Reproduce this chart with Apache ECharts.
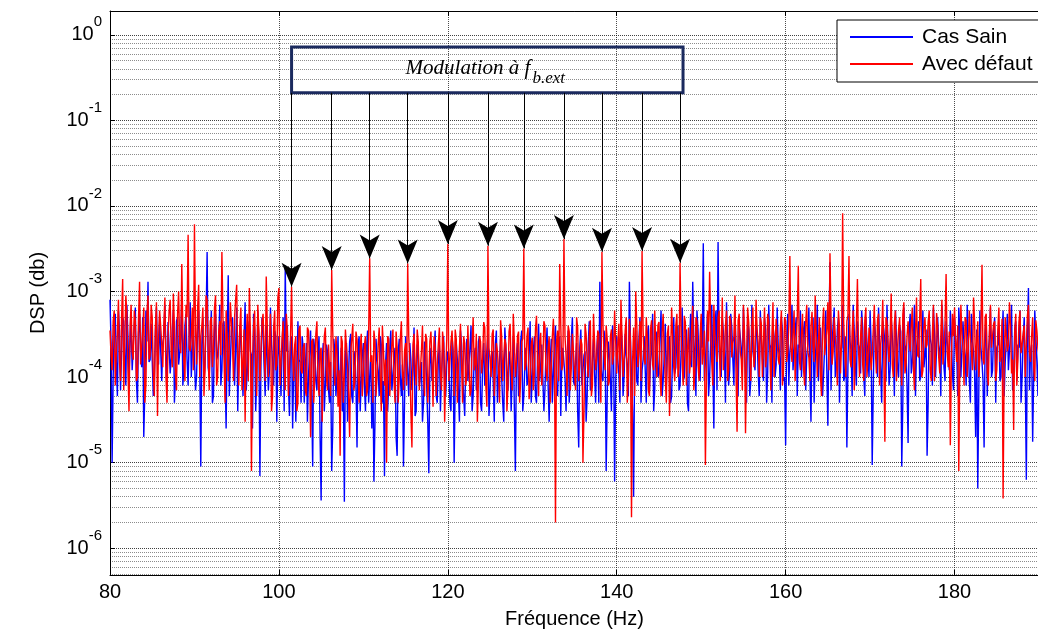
<!DOCTYPE html>
<html><head><meta charset="utf-8">
<script src="https://cdn.jsdelivr.net/npm/echarts@6/dist/echarts.min.js"></script>
<style>html,body{margin:0;padding:0;background:#fff}#c{width:1038px;height:633px}</style>
</head><body><div id="c"></div>
<script>
// ---- data: values in units of 1e-4; one row per 10 Hz band ----
// *Rows: samples at band + k*0.25 Hz ; *MidRows: samples at band + k*0.25 + 0.125 Hz
const freqStep = 0.25;
const midShift = 0.125;
const valueUnit = 1e-4;
const bandStarts = [80, 90, 100, 110, 120, 130, 140, 150, 160, 170, 180];
const seriesNames = ['Cas Sain', 'Avec défaut'];
const xTicks = [80, 100, 120, 140, 160, 180];
const yDecades = [-6, -5, -4, -3, -2, -1, 0];

const redRows = [
  [3.5,1.2,6.0,2.0,8.0,0.9,14,2.5,5.5,0.4, 7.0,1.6,4.5,1.0,13,2.2,6.5,0.8,9.0,1.8, 5.0,0.6,7.5,2.8,4.0,1.3,8.5,0.5,6.0,1.9, 9.5,1.1,5.5,2.5,21,1.5,7.0,46,2.0,6.5],
  [61,1.4,12,3.0,6.5,1.2,8.0,0.7,5.0,2.0, 9.0,1.0,4.5,29,1.6,6.0,0.9,7.5,2.4,5.0, 12,0.8,6.5,1.5,0.3,5.5,11,0.08,4.0,1.3, 7.0,0.9,4.5,2.2,15,1.0,5.5,0.6,6.0,1.4],
  [11,1.5,4.5,0.7,3.5,1.2,11.4,0.9,3.0,0.5, 4.0,1.1,2.5,0.6,3.5,0.2,2.8,1.0,4.5,0.6, 2.2,1.3,3.8,0.7,2.5,17.8,1.4,3.0,0.45,0.12, 2.6,1.0,3.5,0.6,2.0,4.2,0.9,2.8,0.5,3.2],
  [1.1,3.0,0.7,24.4,1.8,3.5,0.6,2.4,1.0,4.0, 0.8,0.1,2.8,1.2,3.6,0.5,2.2,1.0,4.5,0.7, 2.5,21.3,1.5,0.15,3.2,0.8,2.6,1.2,4.0,0.6, 2.8,1.0,3.4,0.45,2.2,1.4,3.8,0.7,2.5,1.1],
  [35.9,1.5,3.5,0.6,2.8,1.2,4.2,0.5,2.5,1.0, 3.8,0.7,5.0,1.4,0.3,3.0,1.1,4.4,0.8,34.3, 1.6,3.2,0.6,2.5,1.2,4.6,0.9,2.8,0.4,3.4, 1.3,5.5,1.0,3.0,0.5,2.6,31.9,1.4,3.8,0.8],
  [2.9,1.1,5.2,0.6,3.3,1.5,4.0,0.9,3.0,1.3, 4.8,0.02,3.5,21,1.2,41,1.8,4.0,0.7,3.2, 1.2,5.0,0.9,2.8,0.1,4.2,1.5,3.0,0.6,5.5, 1.2,3.5,1.0,29.2,1.8,4.0,0.8,3.0,1.4,6.0],
  [1.1,4.2,8.0,1.0,3.5,0.5,4.8,0.023,3.8,10, 1.3,4.5,29.7,1.6,5.0,0.7,3.6,1.4,6.0,1.0, 4.4,0.6,5.5,1.8,3.2,0.35,6.5,1.3,4.0,1.0, 21.7,1.5,5.2,0.8,3.8,1.6,6.8,1.1,4.5,0.9],
  [5.5,2.0,0.094,6.0,17,1.5,7.0,2.2,5.0,0.9, 8.5,2.0,6.0,1.2,4.5,2.5,9.0,0.23,5.5,1.6, 7.0,0.22,6.5,2.0,4.0,1.3,8.0,2.5,5.0,1.0, 6.5,1.8,4.5,0.7,7.5,2.2,5.0,1.4,6.0,1.2],
  [4.5,2.0,26,1.5,6.0,2.5,20,1.2,5.5,0.8, 7.0,1.7,4.0,2.3,9.0,1.0,5.0,0.6,6.5,1.8, 7.5,28,1.4,5.0,2.0,6.0,1.1,82,2.0,4.5, 26,1.3,6.0,2.0,14,1.0,5.0,0.9,6.5,1.6],
  [4.0,1.8,7.0,1.1,5.5,2.4,8.0,0.175,4.5,1.5, 9.5,1.0,6.0,2.2,5.0,0.8,7.5,1.4,4.5,2.0, 6.5,0.7,8.5,1.7,14,1.2,5.0,2.4,6.0,0.9, 7.0,1.8,4.0,1.1,8.0,2.0,16,1.3,0.16,5.5],
  [6.5,1.5,0.08,7.0,2.2,5.0,1.0,6.0,2.0,8.5, 1.2,4.5,1.7,20.5,1.4,5.5,0.8,7.0,2.3,4.5, 1.2,6.5,1.8,0.038,5.0,2.0,7.5,1.1,0.24,5.5, 1.6,6.0,2.4,4.0,1.0,7.0,1.5,5.0,0.9,3.5, 1.8]
];
const redMidRows = [
  [1.8,4.5,0.8,3.2,1.5,5.0,0.7,9.0,1.2,4.0, 2.0,6.0,0.9,4.8,1.4,3.5,0.5,5.5,1.6,7.0, 1.1,3.8,0.35,6.0,2.4,4.2,1.0,3.0,8.0,1.3, 4.0,0.7,10,1.9,3.6,0.9,5.0,2.2,3.0,1.2],
  [3.5,6.5,1.0,4.0,0.6,9.0,2.0,4.5,1.3,6.5, 0.8,3.4,1.8,5.0,0.5,3.0,2.2,4.4,0.9,8.0, 1.6,4.0,0.7,3.6,2.6,0.9,3.2,1.5,6.0,0.6, 3.5,2.0,5.5,0.9,4.0,2.4,0.4,3.8,1.2,8.5],
  [0.8,2.8,1.4,5.5,0.6,3.0,1.8,2.4,0.4,3.6, 1.2,2.2,0.7,3.8,1.5,2.6,0.5,3.2,0.9,2.0, 0.3,3.0,1.0,2.4,0.6,3.4,0.8,2.0,1.2,3.0, 0.5,3.6,1.4,0.2,2.8,0.7,3.4,1.0,2.2,0.6],
  [2.4,0.6,3.2,1.5,0.5,2.6,1.0,3.8,0.4,2.2, 1.6,3.0,0.6,2.4,0.9,3.4,0.5,2.8,1.2,2.0, 0.8,3.0,0.4,2.4,1.4,3.6,0.7,2.0,1.0,3.2, 0.5,2.6,1.5,3.0,0.6,2.4,1.1,3.4,0.3,2.8],
  [0.9,2.6,1.8,3.6,0.5,2.2,1.4,3.0,0.8,4.0, 0.6,2.4,1.2,3.2,0.9,2.6,1.6,3.8,0.45,2.2, 1.0,3.6,1.4,2.0,0.5,3.0,1.7,2.4,0.8,4.2, 0.7,2.6,1.5,3.4,0.9,2.8,1.2,3.0,0.55,2.4],
  [0.7,3.6,1.6,2.6,0.8,4.5,1.2,2.2,0.5,3.0, 1.8,2.6,0.9,4.0,1.4,3.0,0.6,3.4,1.3,2.0, 0.7,3.8,1.5,2.4,0.4,3.2,1.0,4.6,0.8,2.6, 1.6,3.2,0.5,4.0,1.2,2.8,0.9,3.6,1.8,2.6],
  [2.4,0.7,3.0,1.6,5.0,1.0,2.6,1.5,0.6,4.2, 2.0,0.9,3.5,1.4,2.8,0.6,4.6,1.2,2.4,4.0, 1.0,3.4,1.8,0.5,4.0,1.6,3.0,0.9,5.5,1.3, 3.2,0.8,4.4,2.0,1.1,3.8,0.7,5.0,1.4,3.0],
  [1.4,3.5,1.0,2.6,4.0,0.8,3.2,1.5,6.0,2.4, 1.2,4.0,0.9,5.2,1.7,3.0,1.1,4.6,2.0,0.7, 3.4,1.5,4.4,0.9,6.5,1.8,3.6,1.0,4.2,2.6, 1.3,5.5,2.0,3.0,1.0,4.8,1.6,3.8,0.8,5.0],
  [1.5,4.0,2.2,3.4,0.9,5.0,1.6,3.2,1.2,4.4, 2.0,0.9,5.8,1.5,3.0,2.4,1.0,4.2,1.8,3.6, 1.2,4.8,2.0,3.0,0.8,3.8,2.6,4.4,1.0,5.2, 1.6,3.4,0.7,4.0,2.2,3.0,1.4,4.6,1.0,3.8],
  [1.2,3.6,2.0,4.6,0.8,3.2,1.6,5.0,2.4,3.0, 1.4,4.2,0.9,3.6,1.8,5.4,1.1,3.0,2.6,4.0, 1.3,3.4,1.8,5.0,1.0,3.8,2.2,4.4,1.2,3.2, 0.9,5.6,1.7,3.0,1.4,4.2,2.0,3.4,1.5,3.0],
  [2.4,4.0,1.4,3.2,0.8,4.6,2.0,3.0,1.2,4.4, 2.6,1.0,3.8,1.6,5.0,1.1,3.4,2.2,4.2,0.9, 3.6,1.5,4.8,1.2,3.0,2.4,4.0,1.6,3.4,0.8, 4.4,1.9,3.2,1.0,5.2,2.0,3.0,1.3,4.6,2.2]
];

const blueRows = [
  [8.0,0.1,4.0,1.5,6.0,0.7,5.0,1.8,7.0,1.0, 4.5,2.2,6.5,0.5,5.5,1.3,0.2,6.0,13,1.6, 4.0,0.9,6.5,1.4,5.0,2.5,7.0,0.7,4.5,1.7, 6.0,0.9,5.0,1.9,8.0,1.2,5.5,0.8,7.5,2.0],
  [4.0,1.0,6.0,0.09,5.0,1.4,29,1.0,6.0,0.6, 5.5,1.8,7.0,1.2,4.5,0.25,15.5,1.5,5.0,0.8, 6.5,1.6,4.0,0.6,7.5,1.1,4.5,1.8,5.5,0.4, 6.0,0.07,5.0,1.3,4.0,0.7,6.5,1.5,3.5,0.3],
  [3.0,0.6,5.0,20,4.0,0.35,3.0,1.2,0.3,4.5, 1.5,3.0,0.5,2.5,1.0,3.5,0.09,2.0,0.7,3.0, 0.036,2.5,0.8,2.0,0.5,0.08,2.8,0.6,3.0,1.0, 0.4,0.035,2.5,1.1,3.2,0.5,2.0,0.15,3.0,0.9],
  [2.5,0.4,3.5,1.0,0.25,0.06,2.8,1.2,3.0,0.5, 0.07,2.5,0.8,3.5,1.0,2.2,0.12,2.8,0.6,0.09, 3.0,1.1,2.5,0.7,3.8,0.4,2.0,1.0,0.3,2.6, 0.8,0.075,2.2,1.3,3.5,0.5,2.4,1.0,3.0,0.6],
  [2.0,0.5,3.0,0.1,2.5,0.7,3.5,1.1,0.35,2.8, 0.9,4.0,0.6,2.2,1.0,3.0,0.4,2.5,1.2,3.2, 0.7,2.0,0.3,3.5,1.0,2.8,0.5,3.8,1.2,2.0, 0.4,3.0,0.08,2.5,1.0,3.5,0.6,2.2,0.9,4.5],
  [1.0,3.0,0.5,4.2,1.4,2.5,0.7,3.8,0.3,2.8, 1.1,4.0,0.6,3.0,1.5,2.2,0.4,3.5,1.0,5.0, 0.8,2.5,0.15,3.6,1.2,2.0,0.6,4.5,1.0,2.8, 0.5,3.2,13,1.0,3.5,0.08,2.6,0.9,4.0,0.06],
  [3.0,1.1,4.5,0.6,3.2,1.4,13,1.0,0.04,3.5, 0.8,5.0,1.2,3.0,0.5,4.0,1.5,5.5,0.7,3.4, 1.1,6.0,0.9,4.2,1.8,3.0,0.6,5.0,1.3,4.0, 0.8,6.5,1.0,3.6,0.4,5.5,13,1.6,6.0,1.2],
  [4.0,36.6,1.5,5.5,1.0,7.0,0.25,6.0,38,1.3, 5.0,2.0,7.5,0.8,5.5,1.6,6.0,1.2,4.0,2.2, 6.5,1.0,5.0,0.6,7.0,2.0,4.5,1.1,6.0,1.6, 5.0,0.5,7.0,2.2,4.0,1.0,6.5,1.8,5.0,0.9],
  [0.16,5.5,2.0,7.0,1.2,5.0,2.4,6.0,1.0,4.5, 1.8,6.5,0.3,5.0,1.5,7.0,2.0,4.0,1.1,6.0, 0.27,22,2.5,6.5,1.3,5.0,2.0,7.0,1.0,0.15, 5.5,2.0,7.0,1.4,4.5,2.2,6.0,1.0,5.0,1.8],
  [6.0,0.094,5.0,2.0,6.5,1.2,4.5,2.5,7.0,0.8, 5.0,1.8,6.0,1.3,4.0,0.09,6.5,2.0,0.17,5.5, 1.5,7.0,2.2,4.5,1.0,6.0,1.8,0.12,5.0,2.4, 6.5,1.0,5.0,2.0,7.0,1.3,4.5,2.0,6.0,1.1],
  [5.0,2.2,6.5,1.0,4.5,1.8,7.0,0.9,5.5,2.0, 0.2,0.05,6.0,1.5,0.15,5.0,2.0,6.5,1.2,5.0, 2.2,4.0,1.0,6.0,1.5,5.5,2.0,7.0,1.1,4.5, 2.4,6.0,1.0,5.0,0.063,11,2.0,0.175,6.0,1.5, 4.0]
];
const blueMidRows = [
  [2.5,1.0,5.5,0.6,3.5,2.0,4.5,0.8,3.0,2.5, 1.2,4.0,0.9,3.2,2.0,5.0,0.7,2.6,1.5,4.2, 0.6,3.4,1.8,5.0,0.9,3.0,2.0,4.4,1.1,3.6, 0.5,4.5,1.4,2.8,0.8,4.0,1.6,3.0,1.0,3.8],
  [0.7,3.8,1.5,2.4,0.9,4.6,1.3,3.0,0.5,3.6, 1.6,2.8,0.8,4.2,1.2,3.0,0.6,3.4,1.8,2.2, 0.4,4.0,1.4,3.0,0.7,3.2,2.0,0.25,3.6,1.0, 2.8,1.5,3.4,0.6,4.2,1.2,2.4,0.8,3.0,1.6],
  [1.4,2.2,0.4,2.0,0.8,2.6,0.25,2.4,1.0,1.6, 0.5,2.2,1.2,0.3,2.0,0.6,2.8,0.9,1.8,0.2, 1.6,0.4,2.4,0.7,1.5,0.25,2.0,1.0,0.5,2.2, 0.9,1.8,0.3,2.6,0.6,1.4,0.8,2.4,0.4,1.8],
  [0.8,2.2,0.5,1.8,1.2,0.3,1.6,0.6,2.4,0.9, 1.4,0.4,2.2,0.7,1.6,0.2,2.0,1.0,1.4,0.5, 2.0,0.6,1.6,1.2,0.35,2.4,0.8,1.5,0.5,1.8, 0.3,1.4,0.9,2.2,0.6,1.6,0.4,2.0,0.9,1.5],
  [1.3,0.4,2.0,0.8,1.6,0.3,2.4,0.6,1.5,0.9, 2.2,0.4,1.8,0.7,2.6,0.5,1.4,0.8,2.0,0.35, 1.7,0.9,2.4,0.5,1.6,1.0,0.3,2.2,0.7,1.5, 1.1,0.45,1.8,0.6,2.6,0.4,1.4,0.8,2.0,0.5],
  [2.0,0.6,1.6,0.9,2.4,0.4,2.0,0.8,1.5,0.5, 2.6,0.7,1.8,0.35,2.2,1.0,1.6,0.5,2.8,0.9, 1.5,0.4,2.2,0.8,1.8,0.3,2.4,0.7,1.6,1.1, 2.0,0.5,1.4,0.9,2.6,0.6,1.8,0.4,2.2,0.8],
  [1.6,0.5,2.4,1.0,1.8,0.6,2.8,0.4,2.0,0.9, 2.6,0.5,1.6,1.2,3.0,0.7,2.0,0.4,2.4,1.0, 3.2,0.6,1.8,0.8,2.8,0.5,2.2,1.1,3.4,0.7, 2.0,0.9,3.0,0.5,2.4,1.3,2.8,0.6,3.6,0.9],
  [2.2,0.9,3.0,0.6,2.6,1.4,3.6,0.7,2.0,1.0, 3.4,0.5,2.4,1.2,3.8,0.8,2.2,0.6,3.0,1.3, 2.6,0.5,3.6,0.9,2.0,1.2,3.2,0.6,2.8,0.9, 3.6,1.1,2.4,0.5,3.0,1.4,2.2,0.7,3.4,1.0],
  [3.0,0.8,2.6,1.2,3.4,0.6,2.2,1.0,3.6,0.7, 2.4,1.1,3.0,0.5,2.8,0.9,3.8,0.6,2.4,1.2, 3.2,0.7,2.6,1.0,3.6,0.5,2.2,0.9,3.0,1.3, 2.6,0.6,3.4,0.8,2.4,1.1,3.8,0.6,2.6,1.0],
  [2.4,0.7,3.2,1.0,2.6,0.5,3.6,0.9,2.2,1.2, 3.0,0.6,2.8,1.0,3.4,0.5,2.4,0.8,3.8,1.1, 2.6,0.6,3.0,0.9,2.2,1.3,3.6,0.5,2.8,0.8, 3.2,1.0,2.4,0.6,3.6,0.9,2.6,1.2,3.0,0.7],
  [2.8,0.6,3.4,1.0,2.4,0.8,3.0,0.5,2.6,1.1, 3.6,0.7,2.2,0.9,3.0,0.6,2.8,1.0,3.4,0.5, 2.4,0.9,3.2,0.6,2.6,1.2,3.0,0.7,3.6,0.9, 2.2,0.5,2.8,1.0,3.4,0.7,2.4,1.1,3.0,0.6]
];

// modulation lines pointed at by the arrows (Hz)
const modFreqs = [101.5, 106.25, 110.75, 115.25, 120.0, 124.75, 129.0, 133.75, 138.25, 143.0, 147.5];
const annotationText = 'Modulation à f';
const annotationSub = 'b.ext';

// ---- layout / style ----
const FONT = 'Liberation Sans, Arial, Helvetica, sans-serif';
const SERIF = 'Liberation Serif, Times New Roman, serif';
const yMin = 4.86e-7, yMax = 1.9;
const xMin = 80, xMax = 190;
const boxX = [101.5, 147.85];
const boxY = [0.72, 0.21];

function build(rows, midRows) {
  const out = [];
  rows.forEach((row, r) => {
    row.forEach((v, j) => {
      const f = bandStarts[r] + j * freqStep;
      out.push([f, v * valueUnit]);
      const m = midRows[r] && midRows[r][j];
      if (m != null) out.push([f + midShift, m * valueUnit]);
    });
  });
  return out;
}
const blueData = build(blueRows, blueMidRows);
const redData = build(redRows, redMidRows);
const redAt = f => redData.find(p => Math.abs(p[0] - f) < 1e-9)[1];

// minor horizontal grid lines at 2..9 x 10^n
const minorLines = [];
for (let n = -7; n <= 0; n++) for (let k = 2; k <= 9; k++) {
  const v = k * Math.pow(10, n);
  if (v > yMin && v < yMax) minorLines.push({ yAxis: v });
}

const arrows = modFreqs.map(f => [
  { coord: [f, boxY[1]], symbol: 'none' },
  { coord: [f, redAt(f)], symbol: 'arrow', symbolSize: [15, 24] }
]);

const chart = echarts.init(document.getElementById('c'), null, { renderer: 'canvas' });
chart.setOption({
  animation: false,
  backgroundColor: '#fff',
  grid: { left: 110, top: 11, width: 929, height: 564, containLabel: false, outerBoundsMode: 'none' },
  legend: {
    data: seriesNames, orient: 'vertical', left: 837, top: 20,
    backgroundColor: '#fff', borderColor: '#000', borderWidth: 1, borderRadius: 0,
    padding: [6, 10, 7, 13], itemWidth: 63, itemHeight: 2, itemGap: 5, icon: 'rect',
    selectedMode: false,
    textStyle: { fontSize: 21, color: '#000', fontFamily: FONT, lineHeight: 22, padding: [0, 0, 0, 4] }
  },
  xAxis: [{
    type: 'value', min: xMin, max: xMax, interval: 20, position: 'bottom',
    axisLine: { show: true, onZero: false, lineStyle: { color: '#000', width: 1 } },
    axisTick: { show: true, inside: true, length: 5, lineStyle: { color: '#000' } },
    splitLine: { show: true, lineStyle: { color: '#000', type: [1, 1], width: 1, opacity: 0.7 } },
    axisLabel: { fontSize: 20, color: '#000', fontFamily: FONT, margin: 7,
      formatter: v => xTicks.indexOf(v) >= 0 ? String(v) : '' },
    name: 'Fréquence (Hz)', nameLocation: 'middle', nameGap: 34,
    nameTextStyle: { fontSize: 20, color: '#000', fontFamily: FONT }
  }, {
    type: 'value', min: xMin, max: xMax, interval: 20, position: 'top',
    axisLine: { show: true, onZero: false, lineStyle: { color: '#000', width: 1 } },
    axisTick: { show: true, inside: true, length: 5, lineStyle: { color: '#000' } },
    splitLine: { show: false }, axisLabel: { show: false }
  }],
  yAxis: {
    type: 'log', logBase: 10, min: yMin, max: yMax,
    axisLine: { show: true, onZero: false, lineStyle: { color: '#000', width: 1 } },
    axisTick: { show: true, inside: true, length: 5, lineStyle: { color: '#000' } },
    splitLine: { show: true, lineStyle: { color: '#000', type: [1, 1], width: 1, opacity: 0.75 } },
    axisLabel: {
      margin: 8,
      formatter: v => {
        const e = Math.log10(v), r = Math.round(e);
        if (Math.abs(e - r) > 1e-6 || yDecades.indexOf(r) < 0) return '';
        return '{b|10}{e|' + r + '}';
      },
      rich: {
        b: { fontSize: 20, lineHeight: 40, color: '#000', fontFamily: FONT },
        e: { fontSize: 15, verticalAlign: 'top', color: '#000', fontFamily: FONT }
      }
    },
    name: 'DSP (db)', nameLocation: 'middle', nameGap: 62,
    nameTextStyle: { fontSize: 20, color: '#000', fontFamily: FONT }
  },
  series: [
    {
      type: 'line', name: '_grid', data: [], silent: true,
      markLine: {
        silent: true, symbol: 'none', precision: 20, z: 1, animation: false,
        label: { show: false },
        lineStyle: { color: '#000', type: [1, 1], width: 1, opacity: 0.45 },
        emphasis: { disabled: true },
        data: minorLines
      }
    },
    {
      name: seriesNames[0], type: 'line', data: blueData, showSymbol: false, symbol: 'none',
      silent: true, z: 2, lineStyle: { width: 1.4, color: '#0000ff' }, itemStyle: { color: '#0000ff' }
    },
    {
      name: seriesNames[1], type: 'line', data: redData, showSymbol: false, symbol: 'none',
      silent: true, z: 3, lineStyle: { width: 1.4, color: '#ff0000' }, itemStyle: { color: '#ff0000' }
    },
    {
      type: 'line', name: '_annot', data: [], silent: true,
      markArea: {
        silent: true, z: 6, animation: false,
        itemStyle: { color: 'rgba(0,0,0,0)', borderColor: '#1b2a5e', borderWidth: 3, borderRadius: 3 },
        label: {
          show: true, position: 'inside', offset: [-2, 3],
          formatter: '{m|' + annotationText + '}{s|' + annotationSub + '}',
          rich: {
            m: { fontSize: 21, fontStyle: 'italic', fontFamily: SERIF, color: '#000', lineHeight: 22, verticalAlign: 'top' },
            s: { fontSize: 17, fontStyle: 'italic', fontFamily: SERIF, color: '#000', verticalAlign: 'bottom', padding: [12, 0, 0, 2] }
          }
        },
        emphasis: { disabled: true },
        data: [[{ coord: [boxX[0], boxY[0]] }, { coord: [boxX[1], boxY[1]] }]]
      },
      markLine: {
        silent: true, z: 6, animation: false, precision: 20,
        symbol: ['none', 'arrow'],
        label: { show: false },
        lineStyle: { color: '#000', width: 1, type: 'solid' },
        itemStyle: { color: '#000' },
        emphasis: { disabled: true },
        data: arrows
      }
    }
  ]
});
</script></body></html>
